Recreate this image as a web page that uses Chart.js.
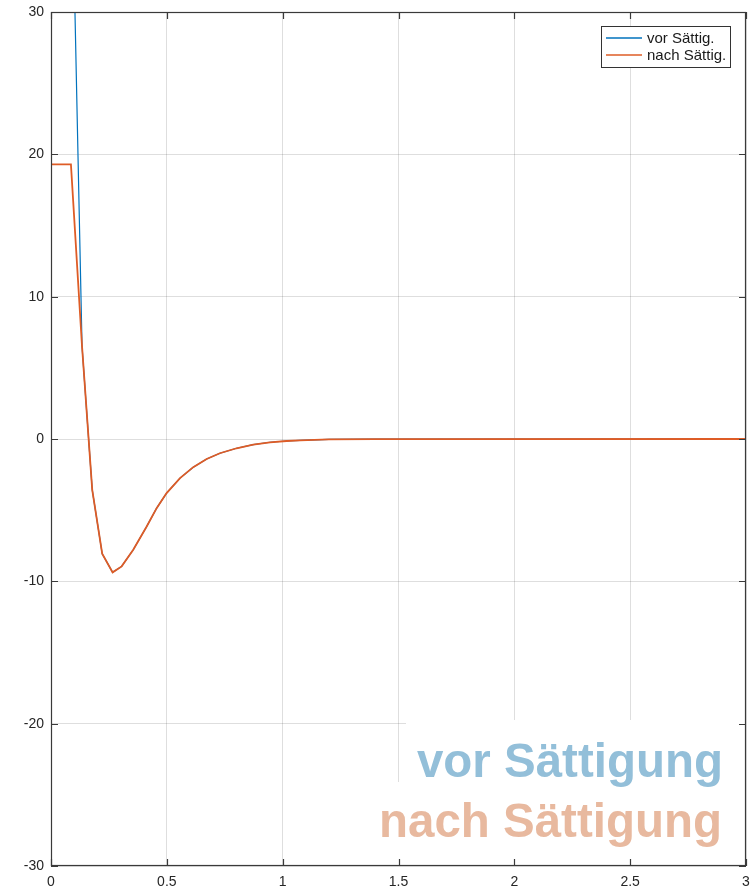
<!DOCTYPE html>
<html>
<head>
<meta charset="utf-8">
<script src="https://cdn.jsdelivr.net/npm/chart.js@4/dist/chart.umd.min.js"></script>
<style>
  html, body { margin: 0; padding: 0; background: #ffffff; }
  #wrap { width: 755px; height: 890px; }
</style>
</head>
<body>
<div id="wrap"><canvas id="c" width="755" height="890"></canvas></div>
<script>
// Response over time, t in seconds
const tVor  = [0.086, 0.134, 0.178, 0.221, 0.266, 0.305, 0.355, 0.413, 0.456, 0.499, 0.557, 0.614, 0.672, 0.729, 0.801, 0.873, 0.945, 1.017, 1.075, 1.2, 1.4, 3.0];
const vorSaettigung  = [43.4, 6.5, -3.57, -8.06, -9.37, -8.95, -7.78, -6.15, -4.86, -3.80, -2.75, -1.98, -1.40, -1.00, -0.65, -0.40, -0.23, -0.14, -0.09, -0.03, -0.01, 0];

const tNach = [0, 0.086, 0.134, 0.178, 0.221, 0.266, 0.305, 0.355, 0.413, 0.456, 0.499, 0.557, 0.614, 0.672, 0.729, 0.801, 0.873, 0.945, 1.017, 1.075, 1.2, 1.4, 3.0];
const nachSaettigung = [19.3, 19.3, 6.5, -3.57, -8.06, -9.37, -8.95, -7.78, -6.15, -4.86, -3.80, -2.75, -1.98, -1.40, -1.00, -0.65, -0.40, -0.23, -0.14, -0.09, -0.03, -0.01, 0];

const xTickLabels = ['0', '0.5', '1', '1.5', '2', '2.5', '3'];
const yTickLabels = ['-30', '-20', '-10', '0', '10', '20', '30'];
const seriesNames = ['vor Sättig.', 'nach Sättig.'];
const bannerLines = ['vor Sättigung', 'nach Sättigung'];

const BLUE = 'rgb(0,114,189)';
const ORANGE = 'rgb(222,92,38)';
const AXIS = '#3a3a3a';
const FONT = '"Liberation Sans", Arial, Helvetica, sans-serif';

const toPoints = (xs, ys) => xs.map((x, i) => ({ x: x, y: ys[i] }));

// Boxed axes with inward ticks, legend in the upper right, caption block lower right
const framePlugin = {
  id: 'frame',
  beforeDatasetsDraw(chart) {
    const ctx = chart.ctx, a = chart.chartArea;
    ctx.save();
    ctx.fillStyle = '#ffffff';
    ctx.fillRect(a.right - 340, a.bottom - 146, 340, 62);
    ctx.fillRect(a.right - 376, a.bottom - 84, 376, 84);
    ctx.font = 'bold 47.5px ' + FONT;
    ctx.textAlign = 'right';
    ctx.textBaseline = 'alphabetic';
    ctx.fillStyle = '#93bfd9';
    ctx.fillText(bannerLines[0], a.right - 23, a.bottom - 89);
    ctx.fillStyle = '#e8b99f';
    ctx.fillText(bannerLines[1], a.right - 24, a.bottom - 29);
    ctx.restore();
  },
  afterDraw(chart) {
    const ctx = chart.ctx, a = chart.chartArea;
    const xs = chart.scales.x, ys = chart.scales.y;
    ctx.save();
    ctx.strokeStyle = AXIS;
    ctx.lineWidth = 1.2;
    ctx.strokeRect(a.left + 0.5, a.top + 0.5, a.right - a.left - 1, a.bottom - a.top - 1);
    const tl = 7;
    ctx.beginPath();
    xs.ticks.forEach(t => {
      const px = Math.round(xs.getPixelForValue(t.value)) + 0.5;
      ctx.moveTo(px, a.bottom); ctx.lineTo(px, a.bottom - tl);
      ctx.moveTo(px, a.top); ctx.lineTo(px, a.top + tl);
    });
    ys.ticks.forEach(t => {
      const py = Math.round(ys.getPixelForValue(t.value)) + 0.5;
      ctx.moveTo(a.left, py); ctx.lineTo(a.left + tl, py);
      ctx.moveTo(a.right, py); ctx.lineTo(a.right - tl, py);
    });
    ctx.stroke();

    // legend
    const lx = a.right - 145, ly = a.top + 14, lw = 129, lh = 41;
    ctx.fillStyle = '#ffffff';
    ctx.fillRect(lx, ly, lw, lh);
    ctx.lineWidth = 1;
    ctx.strokeStyle = '#333333';
    ctx.strokeRect(lx + 0.5, ly + 0.5, lw, lh);
    ctx.font = '15px ' + FONT;
    ctx.textAlign = 'left';
    ctx.textBaseline = 'middle';
    chart.data.datasets.forEach((ds, i) => {
      const yy = ly + 12 + i * 17;
      ctx.strokeStyle = ds.borderColor;
      ctx.lineWidth = 1.5;
      ctx.beginPath();
      ctx.moveTo(lx + 5, yy); ctx.lineTo(lx + 41, yy);
      ctx.stroke();
      ctx.fillStyle = '#1a1a1a';
      ctx.fillText(ds.label, lx + 46, yy + 1);
    });
    ctx.restore();
  }
};

new Chart(document.getElementById('c'), {
  type: 'scatter',
  data: {
    datasets: [
      {
        label: seriesNames[0],
        data: toPoints(tVor, vorSaettigung),
        showLine: true,
        borderColor: BLUE,
        backgroundColor: BLUE,
        borderWidth: 1.2,
        pointRadius: 0,
        tension: 0,
        order: 1
      },
      {
        label: seriesNames[1],
        data: toPoints(tNach, nachSaettigung),
        showLine: true,
        borderColor: ORANGE,
        backgroundColor: ORANGE,
        borderWidth: 1.8,
        pointRadius: 0,
        tension: 0,
        order: 0
      }
    ]
  },
  options: {
    responsive: false,
    animation: false,
    devicePixelRatio: 1,
    layout: { padding: { top: 12, right: 9, left: 0, bottom: 0 } },
    plugins: {
      legend: { display: false },
      tooltip: { enabled: false },
      title: { display: false }
    },
    scales: {
      x: {
        type: 'linear',
        min: 0, max: 3,
        border: { display: false },
        grid: { color: 'rgba(0,0,0,0.13)', lineWidth: 1, drawTicks: false },
        ticks: {
          stepSize: 0.5,
          autoSkip: false,
          maxRotation: 0,
          padding: 8,
          color: '#262626',
          font: { family: FONT, size: 14 },
          callback: (v, i) => xTickLabels[i]
        },
        afterFit: s => { s.height = 24; s.paddingLeft = 0; s.paddingRight = 0; }
      },
      y: {
        type: 'linear',
        min: -30, max: 30,
        border: { display: false },
        grid: { color: 'rgba(0,0,0,0.13)', lineWidth: 1, drawTicks: false },
        ticks: {
          stepSize: 10,
          padding: 7,
          color: '#262626',
          font: { family: FONT, size: 14 },
          callback: (v, i) => yTickLabels[i]
        },
        afterFit: s => { s.width = 51; s.paddingTop = 0; s.paddingBottom = 0; }
      }
    }
  },
  plugins: [framePlugin]
});
</script>
</body>
</html>
